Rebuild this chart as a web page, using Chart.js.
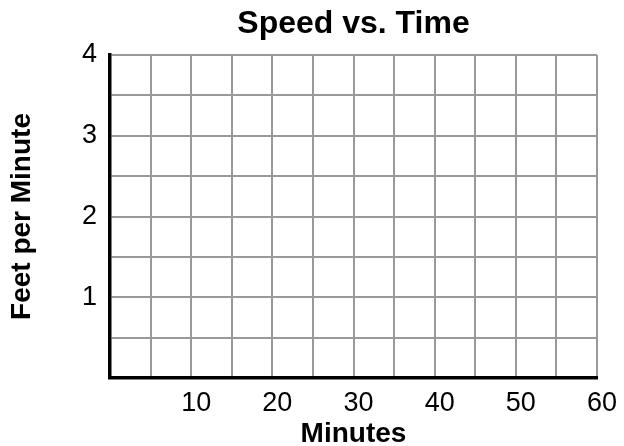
<!DOCTYPE html>
<html>
<head>
<meta charset="utf-8">
<script src="https://cdn.jsdelivr.net/npm/chart.js@4/dist/chart.umd.min.js"></script>
<style>
  html, body { margin: 0; padding: 0; background: #fff; }
  #wrap { width: 624px; height: 446px; }
</style>
</head>
<body>
<div id="wrap"><canvas id="chart"></canvas></div>
<script>
// blank worksheet grid: no points plotted yet
const speedPoints = [];
const xTickLabels = [10, 20, 30, 40, 50, 60];
const yTickLabels = [1, 2, 3, 4];

const fontFamily = "'Liberation Sans', Arial, Helvetica, sans-serif";

const ctx = document.getElementById('chart').getContext('2d');
const chart = new Chart(ctx, {
    type: 'scatter',
    data: {
        datasets: [{
            label: 'Speed',
            data: speedPoints,
            borderColor: '#000',
            backgroundColor: '#000'
        }]
    },
    options: {
        responsive: true,
        maintainAspectRatio: false,
        animation: false,
        layout: {
            padding: { left: 0, right: 27, top: 0, bottom: 0 }
        },
        plugins: {
            legend: { display: false },
            tooltip: { enabled: false },
            title: {
                display: true,
                text: 'Speed vs. Time',
                fullSize: false,
                color: '#000',
                font: { family: fontFamily, size: 32, weight: 'bold', lineHeight: 1.2 },
                padding: { top: 5, bottom: 11.6 }
            }
        },
        scales: {
            x: {
                type: 'linear',
                min: 0,
                max: 60,
                afterFit: (scale) => { scale.height = 68; },
                grid: { color: '#999', lineWidth: 2, drawTicks: false },
                border: { display: true, color: '#000', width: 3.5 },
                ticks: {
                    stepSize: 5,
                    autoSkip: false,
                    maxRotation: 0,
                    padding: 9,
                    labelOffset: 5,
                    color: '#000',
                    font: { family: fontFamily, size: 27 },
                    callback: (v) => xTickLabels.includes(v) ? String(v) : ''
                },
                title: {
                    display: true,
                    text: 'Minutes',
                    color: '#000',
                    font: { family: fontFamily, size: 28, weight: 'bold', lineHeight: 0.85 },
                    padding: { top: 0, bottom: 0 }
                }
            },
            y: {
                type: 'linear',
                min: 0,
                max: 4,
                afterFit: (scale) => { scale.width = 110; },
                grid: { color: '#999', lineWidth: 2, drawTicks: false },
                border: { display: true, color: '#000', width: 3.5 },
                ticks: {
                    stepSize: 0.5,
                    autoSkip: false,
                    padding: 13,
                    color: '#000',
                    font: { family: fontFamily, size: 27 },
                    callback: (v) => yTickLabels.includes(v) ? String(v) : ''
                },
                title: {
                    display: true,
                    text: 'Feet per Minute',
                    color: '#000',
                    font: { family: fontFamily, size: 28, weight: 'bold', lineHeight: 0.85 },
                    padding: { top: 10, bottom: 0 }
                }
            }
        }
    }
});
</script>
</body>
</html>
